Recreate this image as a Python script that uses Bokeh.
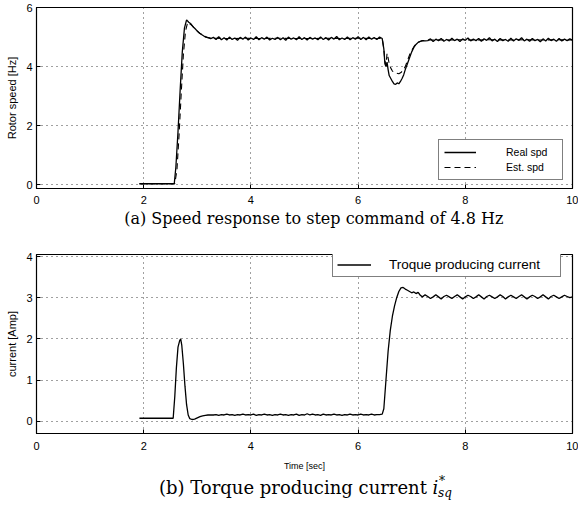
from bokeh.plotting import figure
from bokeh.models import Legend, LegendItem, Label, Range1d, FixedTicker
from bokeh.layouts import column
from bokeh.embed import file_html
from bokeh.resources import INLINE

SANS = "Liberation Sans"
SERIF = "DejaVu Serif"

# ---------------- data ----------------
x_ticks = [0, 2, 4, 6, 8, 10]
spd_ticks = [0, 2, 4, 6]
cur_ticks = [0, 1, 2, 3, 4]

# speed, real: step transient
spd_rise_t = [1.92, 2.57, 2.60, 2.64, 2.68, 2.72, 2.76, 2.80, 2.84, 2.88, 2.92, 2.96, 3.00, 3.05, 3.10, 3.15, 3.20, 3.25]
spd_rise_v = [0.04, 0.04, 0.60, 1.80, 3.20, 4.50, 5.30, 5.58, 5.50, 5.45, 5.35, 5.28, 5.20, 5.12, 5.06, 5.00, 4.98, 4.95]
# speed, real: steady ripple 3.30 .. 6.45 s (0.05 s step)
spd_steady1 = [4.99, 4.92, 5.01, 4.91, 4.98, 4.90, 5.00, 4.92, 4.97, 4.89, 4.99, 4.93, 5.00, 4.90, 4.97, 4.92,
               5.01, 4.91, 4.98, 4.93, 5.00, 4.90, 4.96, 4.92, 4.99, 4.91, 4.98, 4.89, 5.00, 4.93, 4.97, 4.91,
               5.01, 4.92, 4.98, 4.90, 4.99, 4.93, 4.97, 4.91, 5.00, 4.92, 4.98, 4.90, 4.99, 4.93, 5.02, 4.91,
               4.97, 4.92, 5.00, 4.91, 4.98, 4.93, 5.01, 4.92, 4.99, 4.91, 5.00, 4.93, 4.98, 4.92, 5.00, 4.95]
# speed, real: load disturbance dip
spd_dip_t = [6.48, 6.50, 6.52, 6.54, 6.56, 6.58, 6.61, 6.64, 6.67, 6.70, 6.73, 6.76, 6.79, 6.82, 6.85, 6.88,
             6.92, 6.96, 7.00, 7.04, 7.08, 7.12, 7.16, 7.20, 7.25]
spd_dip_v = [4.60, 4.10, 4.00, 4.15, 3.90, 3.70, 3.60, 3.50, 3.42, 3.40, 3.45, 3.42, 3.50, 3.60, 3.72, 3.90,
             4.10, 4.30, 4.50, 4.65, 4.75, 4.82, 4.85, 4.88, 4.87]
# speed, real: steady ripple 7.30 .. 10.00 s (0.05 s step)
spd_steady2 = [4.88, 4.94, 4.85, 4.93, 4.88, 4.95, 4.86, 4.92, 4.87, 4.96, 4.88, 4.93, 4.85, 4.94, 4.89, 4.97,
               4.87, 4.93, 4.88, 4.95, 4.86, 4.94, 4.89, 4.98, 4.87, 4.93, 4.85, 4.95, 4.88, 4.92, 4.86, 4.96,
               4.87, 4.94, 4.89, 4.98, 4.87, 4.93, 4.86, 4.95, 4.88, 4.92, 4.84, 4.94, 4.87, 4.96, 4.88, 4.93,
               4.86, 4.95, 4.87, 4.93, 4.88, 4.94, 4.90]

# speed, estimated
est_t = [1.92, 2.58, 2.62, 2.66, 2.70, 2.74, 2.78, 2.82, 2.88, 2.95, 3.05, 3.20, 3.30,
         3.60, 3.90, 4.20, 4.50, 4.80, 5.10, 5.40, 5.70, 6.00, 6.30, 6.45,
         6.48, 6.50, 6.52, 6.54, 6.56, 6.58, 6.61, 6.64, 6.68, 6.72, 6.76, 6.80, 6.84, 6.88, 6.92, 6.96,
         7.00, 7.05, 7.10, 7.15, 7.20, 7.30, 7.60, 7.90, 8.20, 8.50, 8.80, 9.10, 9.40, 9.70, 10.00]
est_v = [0.04, 0.04, 0.50, 1.70, 3.10, 4.40, 5.20, 5.50, 5.42, 5.30, 5.12, 4.98, 4.96,
         4.95, 4.96, 4.95, 4.96, 4.95, 4.95, 4.96, 4.95, 4.96, 4.95, 4.95,
         4.60, 4.20, 4.05, 4.45, 4.30, 4.10, 3.95, 3.85, 3.80, 3.78, 3.76, 3.80, 3.88, 4.00, 4.20, 4.40,
         4.55, 4.70, 4.80, 4.85, 4.88, 4.90, 4.90, 4.91, 4.90, 4.91, 4.90, 4.91, 4.90, 4.91, 4.90]

# current: first pulse
cur_rise_t = [1.92, 2.55, 2.58, 2.61, 2.64, 2.67, 2.69, 2.71, 2.74, 2.77, 2.80, 2.83, 2.86, 2.90, 2.95,
              3.00, 3.05, 3.10, 3.15, 3.20, 3.25]
cur_rise_v = [0.07, 0.07, 0.60, 1.30, 1.80, 1.95, 2.00, 1.85, 1.40, 0.85, 0.40, 0.15, 0.06, 0.04, 0.05,
              0.08, 0.11, 0.13, 0.14, 0.15, 0.15]
# current: steady 3.30 .. 6.45 s (0.05 s step)
cur_steady1 = [0.15, 0.16, 0.14, 0.16, 0.15, 0.17, 0.15, 0.16, 0.14, 0.16, 0.15, 0.17, 0.15, 0.16, 0.15, 0.17,
               0.14, 0.16, 0.15, 0.17, 0.15, 0.16, 0.14, 0.16, 0.15, 0.17, 0.15, 0.16, 0.14, 0.16, 0.15, 0.17,
               0.14, 0.16, 0.15, 0.18, 0.15, 0.17, 0.15, 0.16, 0.14, 0.17, 0.15, 0.16, 0.15, 0.17, 0.15, 0.16,
               0.14, 0.16, 0.15, 0.17, 0.15, 0.16, 0.15, 0.17, 0.15, 0.16, 0.15, 0.17, 0.15, 0.16, 0.16, 0.17]
# current: load step
cur_step_t = [6.48, 6.52, 6.56, 6.60, 6.64, 6.68, 6.72, 6.76, 6.80, 6.84, 6.88, 6.92, 6.96, 7.00, 7.04,
              7.08, 7.12, 7.16]
cur_step_v = [0.30, 1.00, 1.70, 2.20, 2.55, 2.80, 3.00, 3.15, 3.24, 3.25, 3.21, 3.18, 3.15, 3.12, 3.14,
              3.10, 3.13, 3.06]
# current: steady ripple 7.20 .. 10.00 s (0.05 s step)
cur_steady2 = [3.02, 3.07, 3.03, 2.98, 3.02, 3.07, 3.02, 2.97, 3.03, 3.06, 3.02, 2.98, 3.03, 3.07, 3.02, 2.97,
               3.02, 3.06, 3.03, 2.98, 3.02, 3.07, 3.02, 2.97, 3.03, 3.06, 3.02, 2.98, 3.02, 3.07, 3.03, 2.97,
               3.02, 3.06, 3.02, 2.98, 3.03, 3.07, 3.02, 2.97, 3.02, 3.06, 3.03, 2.98, 3.02, 3.07, 3.02, 2.97,
               3.03, 3.06, 3.02, 2.98, 3.02, 3.06, 3.03, 3.00, 3.02]


def grid(start, step, n):
    return [round(start + step * i, 3) for i in range(n)]


spd_t = spd_rise_t + grid(3.30, 0.05, len(spd_steady1)) + spd_dip_t + grid(7.30, 0.05, len(spd_steady2))
spd_v = spd_rise_v + spd_steady1 + spd_dip_v + spd_steady2
cur_t = cur_rise_t + grid(3.30, 0.05, len(cur_steady1)) + cur_step_t + grid(7.20, 0.05, len(cur_steady2))
cur_v = cur_rise_v + cur_steady1 + cur_step_v + cur_steady2

FIG_W = 578


# ---------------- figures ----------------
def style(p, yticks):
    p.outline_line_color = "black"
    p.outline_line_width = 1.2
    p.background_fill_color = "white"
    p.border_fill_color = "white"
    for ax in (p.xaxis[0], p.yaxis[0]):
        ax.axis_line_color = "black"
        ax.major_tick_in = 4
        ax.major_tick_out = 0
        ax.minor_tick_in = 0
        ax.minor_tick_out = 0
        ax.major_tick_line_color = "black"
        ax.major_label_text_font = SANS
        ax.major_label_text_font_size = "11px"
        ax.major_label_text_color = "black"
        ax.axis_label_text_font = SANS
        ax.axis_label_text_font_style = "normal"
        ax.axis_label_text_color = "black"
    p.xaxis.ticker = FixedTicker(ticks=x_ticks)
    p.yaxis.ticker = FixedTicker(ticks=yticks)
    p.xaxis.major_label_standoff = 7
    p.yaxis.major_label_standoff = 4
    p.yaxis.axis_label_text_font_size = "11px"
    p.yaxis.axis_label_standoff = 5
    p.xgrid.ticker = FixedTicker(ticks=x_ticks)
    p.ygrid.ticker = FixedTicker(ticks=yticks)
    for g in (p.xgrid[0], p.ygrid[0]):
        g.grid_line_color = "black"
        g.grid_line_alpha = 0.75
        g.grid_line_dash = "1 4"
        g.grid_line_width = 1


def caption_fig(h):
    c = figure(width=FIG_W, height=h, x_range=Range1d(0, FIG_W), y_range=Range1d(0, h),
               output_backend="svg", toolbar_location=None,
               x_axis_location=None, y_axis_location=None,
               min_border=0, min_border_left=0, min_border_right=0, min_border_top=0, min_border_bottom=0)
    c.grid.visible = False
    c.outline_line_color = None
    c.background_fill_color = "white"
    c.border_fill_color = "white"
    return c


p1 = figure(frame_width=536, frame_height=181, x_range=Range1d(0, 10), y_range=Range1d(-0.12, 6),
            output_backend="svg", toolbar_location=None,
            min_border_left=36, min_border_right=6, min_border_top=7, min_border_bottom=20)
style(p1, spd_ticks)
p1.yaxis.axis_label = "Rotor speed [Hz]"
r_est = p1.line(est_t, est_v, color="black", line_width=1.1, line_dash="6 4")
r_real = p1.line(spd_t, spd_v, color="black", line_width=1.3)
leg1 = Legend(items=[LegendItem(label="Real spd", renderers=[r_real]),
                     LegendItem(label="Est. spd", renderers=[r_est])],
              location=(402, 8), margin=0, padding=5, spacing=1,
              glyph_width=32, glyph_height=14, label_height=14, label_standoff=30, label_width=51,
              label_text_font=SANS, label_text_font_size="10.5px", label_text_color="black",
              border_line_color="black", border_line_width=1, background_fill_alpha=1)
p1.add_layout(leg1)

CAP1_H = 36
cap1 = caption_fig(CAP1_H)
cap1.add_layout(Label(x=299, y=CAP1_H - 10, text="(a) Speed response to step command of 4.8 Hz",
                      text_align="center", text_baseline="middle", text_font=SERIF,
                      text_font_size="16px", text_color="black"))

p2 = figure(frame_width=536, frame_height=179, x_range=Range1d(0, 10), y_range=Range1d(-0.3, 4.05),
            output_backend="svg", toolbar_location=None,
            min_border_left=36, min_border_right=6, min_border_top=10, min_border_bottom=38)
style(p2, cur_ticks)
p2.yaxis.axis_label = "current [Amp]"
p2.xaxis.axis_label = "Time [sec]"
p2.xaxis.major_label_standoff = 8
p2.xaxis.axis_label_text_font_size = "9px"
p2.xaxis.axis_label_standoff = 8
r_cur = p2.line(cur_t, cur_v, color="black", line_width=1.3)
leg2 = Legend(items=[LegendItem(label="Troque producing current", renderers=[r_cur])],
              location=(296, 156), margin=0, padding=4, spacing=0,
              glyph_width=34, glyph_height=15, label_height=15, label_standoff=18, label_width=167,
              label_text_font=SANS, label_text_font_size="13.5px", label_text_color="black",
              border_line_color="black", border_line_width=1, background_fill_alpha=1)
p2.add_layout(leg2)

CAP2_H = 32
cap2 = caption_fig(CAP2_H)
cx = 421
cy = CAP2_H - 14
cap2.add_layout(Label(x=cx, y=cy, text="(b) Torque producing current",
                      text_align="right", text_baseline="middle", text_font=SERIF,
                      text_font_size="18px", text_color="black"))
cap2.add_layout(Label(x=cx + 6, y=cy, text="i",
                      text_align="left", text_baseline="middle", text_font=SERIF, text_font_style="italic",
                      text_font_size="18px", text_color="black"))
cap2.add_layout(Label(x=cx + 13, y=cy + 7, text="*",
                      text_align="left", text_baseline="middle", text_font=SERIF,
                      text_font_size="12px", text_color="black"))
cap2.add_layout(Label(x=cx + 12, y=cy - 5, text="sq",
                      text_align="left", text_baseline="middle", text_font=SERIF, text_font_style="italic",
                      text_font_size="12px", text_color="black"))

layout = column(p1, cap1, p2, cap2, spacing=0)
open("out.html", "w").write(file_html(layout, INLINE))
